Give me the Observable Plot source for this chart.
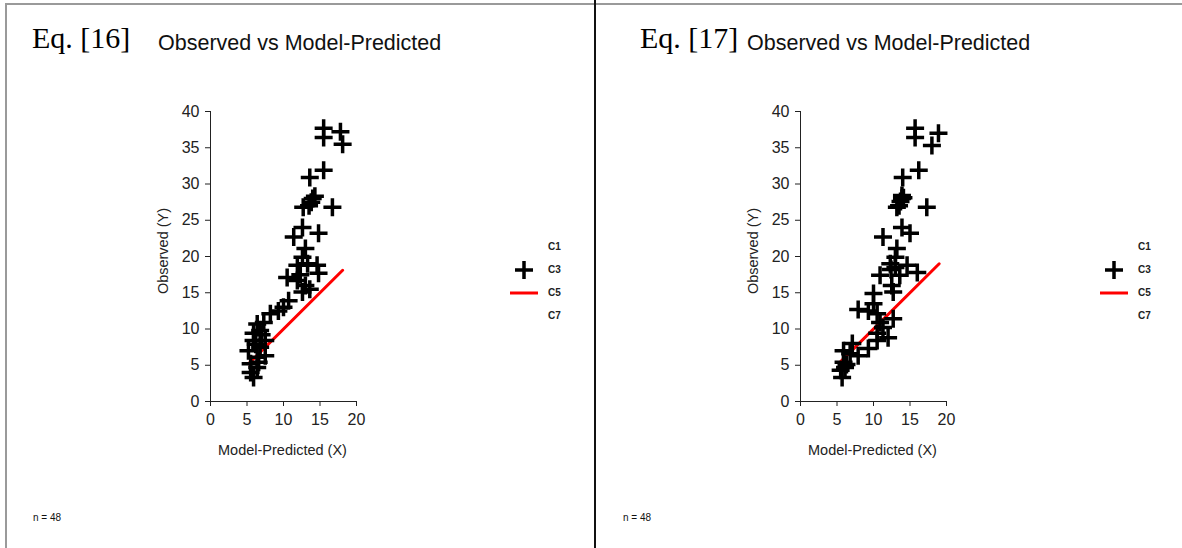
<!DOCTYPE html>
<html>
<head>
<meta charset="utf-8">
<script src="https://cdn.jsdelivr.net/npm/d3@7"></script>
<script src="https://cdn.jsdelivr.net/npm/@observablehq/plot@0.6"></script>
<style>
  body { margin: 0; background: #fff; }
  #page { position: relative; width: 1182px; height: 548px; overflow: hidden; background: #fff;
          font-family: "Liberation Sans", Arial, sans-serif; color: #111; }
  .abs { position: absolute; white-space: nowrap; line-height: 1; }
  .eq { font-family: "Liberation Serif", "Times New Roman", serif; font-size: 30px; color: #000; }
  .title { font-size: 21.5px; color: #111; }
  .axlab { font-size: 14.5px; color: #222; }
  .leg { font-size: 10px; font-weight: bold; color: #222; }
  .n { font-family: "Liberation Sans Narrow", "Liberation Sans", sans-serif; font-size: 10px; color: #111; }
  .frame { position: absolute; left: 5px; top: 3px; right: -10px; bottom: -10px;
           border-left: 2px solid #9a9a9a; border-top: 2px solid #9a9a9a; }
  .divider { position: absolute; left: 594px; top: 0; width: 2px; height: 548px; background: #111; }
</style>
</head>
<body>
<div id="page">
  <div class="frame"></div>
  <div class="divider"></div>
</div>
<script>
// Tick values shared by both panels
const xTicks = [0, 5, 10, 15, 20];
const yTicks = [0, 5, 10, 15, 20, 25, 30, 35, 40];

// Eq. [16]: model-predicted (X) and observed (Y)
const predLeft = [15.5, 15.5, 17.8, 18.1, 15.5, 13.6, 14.0, 13.8, 14.3, 13.5,
                  12.7, 16.7, 11.4, 12.6, 14.8, 13.0, 12.6, 13.3, 11.9, 14.8,
                  14.6, 10.5, 11.9, 13.0, 12.6, 10.7, 10.0, 9.3, 8.2, 7.3,
                  6.4, 6.8, 5.9, 7.5, 5.9, 6.8, 5.2, 7.5, 6.4, 5.5,
                  6.4, 5.5, 5.9, 6.6, 12.3, 13.6, 6.2, 7.0];
const obsLeft = [37.7, 36.4, 37.2, 35.5, 31.9, 30.9, 28.0, 27.5, 28.3, 27.0,
                 26.8, 26.8, 22.7, 24.0, 23.2, 21.1, 19.9, 19.0, 18.8, 17.7,
                 18.8, 17.1, 16.7, 16.0, 15.1, 13.9, 13.0, 12.5, 12.1, 10.9,
                 10.7, 9.8, 9.4, 8.4, 8.4, 7.5, 7.0, 6.3, 6.1, 5.2,
                 4.7, 4.0, 3.3, 5.4, 17.5, 15.5, 7.9, 9.2];
// 1:1 reference line over the predicted range
const lineLeft = [5.2, 18.1];

// Eq. [17]: model-predicted (X) and observed (Y)
const predRight = [15.7, 15.7, 18.9, 18.0, 16.2, 14.0, 13.9, 13.7, 14.1, 13.5,
                   13.9, 13.2, 17.3, 11.3, 13.9, 15.0, 13.2, 13.0, 12.3, 13.0,
                   14.6, 16.0, 10.9, 13.6, 12.5, 12.7, 10.0, 10.0, 7.9, 9.3,
                   10.5, 12.7, 10.9, 11.3, 10.5, 12.0, 10.5, 9.3, 7.1, 5.9,
                   7.9, 6.8, 5.9, 5.5, 6.1, 5.7, 12.4, 6.3];
const obsRight = [37.7, 36.4, 37.0, 35.3, 31.9, 30.9, 28.0, 27.6, 28.1, 27.0,
                  28.4, 26.8, 26.8, 22.7, 24.0, 23.2, 21.1, 19.9, 19.0, 18.5,
                  18.8, 17.8, 17.4, 17.4, 16.0, 15.1, 14.9, 13.5, 12.7, 12.5,
                  12.1, 11.4, 10.9, 10.2, 9.4, 8.8, 8.4, 7.3, 8.0, 7.0,
                  6.3, 6.6, 5.4, 4.3, 4.7, 3.3, 18.2, 5.1];
const lineRight = [5.5, 19.0];

const legendLabels = ["C1", "C3", "C5", "C7"];
const sampleSize = 48;

// Open "+" marker drawn as two strokes
const cross = {
  draw(ctx, size) {
    const r = Math.sqrt(size / Math.PI);
    ctx.moveTo(-r, 0); ctx.lineTo(r, 0);
    ctx.moveTo(0, -r); ctx.lineTo(0, r);
  }
};

function panel(pred, obs, fit) {
  const pts = pred.map((x, i) => ({x, y: obs[i]}));
  const ref = fit.map(v => ({x: v, y: v}));
  return Plot.plot({
    width: 595, height: 548,
    marginLeft: 210, marginRight: 239, marginTop: 111, marginBottom: 147,
    style: {fontFamily: "Liberation Sans, Arial, sans-serif", fontSize: "16px",
            color: "#222", background: "transparent", overflow: "visible"},
    x: {domain: [0, 20]},
    y: {domain: [0, 40]},
    marks: [
      Plot.axisX({ticks: xTicks, tickSize: 5, tickPadding: 7, label: null, fontSize: 16}),
      Plot.axisY({ticks: yTicks, tickSize: 5, tickPadding: 6, label: null, fontSize: 16}),
      Plot.ruleY([0], {stroke: "#222"}),
      Plot.ruleX([0], {stroke: "#222"}),
      Plot.line(ref, {x: "x", y: "y", stroke: "#f00", strokeWidth: 3}),
      Plot.dot(pts, {x: "x", y: "y", symbol: cross, r: 9, stroke: "#000",
                     strokeWidth: 3.5, fill: "none"})
    ]
  });
}

const page = document.getElementById("page");

function addText(cls, text, left, top, extra) {
  const d = document.createElement("div");
  d.className = "abs " + cls;
  d.textContent = text;
  d.style.left = left + "px";
  d.style.top = top + "px";
  if (extra) Object.assign(d.style, extra);
  page.appendChild(d);
  return d;
}

function legend(left) {
  const ys = [247, 270, 293, 316];
  legendLabels.forEach((lab, i) => addText("leg", lab, left + 38, ys[i] - 5));
  const ns = "http://www.w3.org/2000/svg";
  const svg = document.createElementNS(ns, "svg");
  svg.setAttribute("width", 40); svg.setAttribute("height", 40);
  svg.style.position = "absolute";
  svg.style.left = left + "px"; svg.style.top = (ys[1] - 12) + "px";
  svg.innerHTML =
    '<path d="M5,12H23M14,3V21" stroke="#000" stroke-width="3.5" fill="none"/>' +
    '<path d="M0,35H28" stroke="#f00" stroke-width="3" fill="none"/>';
  page.appendChild(svg);
}

function drawPanel(offset, pred, obs, fit, eqText, eqLeft, titleLeft) {
  const chart = panel(pred, obs, fit);
  chart.style.position = "absolute";
  chart.style.left = offset + "px";
  chart.style.top = "0px";
  page.appendChild(chart);
  addText("eq", eqText, eqLeft, 23);
  addText("title", "Observed vs Model-Predicted", titleLeft, 33);
  addText("axlab", "Model-Predicted (X)", offset + 218, 443);
  addText("axlab", "Observed (Y)", offset + 163, 251,
          {transform: "translate(-50%, -50%) rotate(-90deg)"});
  legend(offset + 510);
  addText("n", "n = " + sampleSize, offset + 33, 513);
}

drawPanel(0, predLeft, obsLeft, lineLeft, "Eq. [16]", 32, 158);
drawPanel(590, predRight, obsRight, lineRight, "Eq. [17]", 640, 747);
</script>
</body>
</html>
